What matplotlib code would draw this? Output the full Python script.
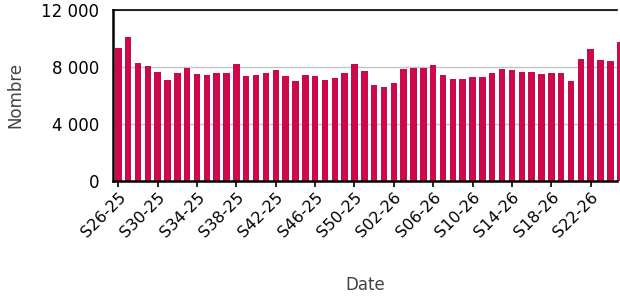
import numpy as np
import matplotlib
matplotlib.use("Agg")
import matplotlib.pyplot as plt

# weeks S26-25 .. S25-26
weeks = ["S%02d-25" % w for w in range(26, 53)] + ["S%02d-26" % w for w in range(1, 26)]
values = [9300, 10090, 8260, 8070, 7680, 7100, 7610, 7950, 7510, 7440,
          7560, 7560, 8190, 7350, 7440, 7580, 7770, 7350, 7000, 7470,
          7350, 7070, 7210, 7610, 8230, 7750, 6750, 6630, 6910, 7860,
          7930, 7930, 8120, 7420, 7190, 7170, 7300, 7300, 7580, 7860,
          7790, 7630, 7650, 7540, 7580, 7610, 7050, 8560, 9230, 8460,
          8420, 9740]
yticks = [0, 4000, 8000, 12000]
ytick_labels = ["0", "4 000", "8 000", "12 000"]

bar_color = "#cc0a4b"

fig = plt.figure(figsize=(6.2, 2.98), dpi=100)
ax = fig.add_axes([113 / 620, 1 - 181 / 298, 504 / 620, 171 / 298])

x = np.arange(len(values))
ax.bar(x, values, width=0.66, color=bar_color, zorder=2, clip_on=False)

ax.set_xlim(-0.54, 50.68)
ax.set_ylim(0, 12000)
ax.set_yticks(yticks)
ax.set_yticklabels(ytick_labels, fontsize=12)
ax.tick_params(axis="y", length=0, pad=10)
ax.grid(axis="y", color="#c4c4c4", linewidth=1, zorder=0)

tick_pos = x[::4]
ax.set_xticks(tick_pos)
ax.set_xticklabels([weeks[i] for i in tick_pos], rotation=45, ha="right",
                   rotation_mode="anchor", fontsize=11.5)
ax.tick_params(axis="x", length=4, width=1.2, color="black", pad=2)

for side in ["left", "bottom"]:
    ax.spines[side].set_linewidth(1.8)
    ax.spines[side].set_color("black")
ax.spines["top"].set_linewidth(1.2)
ax.spines["right"].set_visible(False)

fig.text(15 / 620, 1 - 95 / 298, "Nombre", rotation=90, ha="center", va="center",
         fontsize=12, color="#444444")
fig.text(365 / 620, 1 - 285 / 298, "Date", ha="center", va="center",
         fontsize=12, color="#444444")

fig.savefig("out.png", dpi=100)
